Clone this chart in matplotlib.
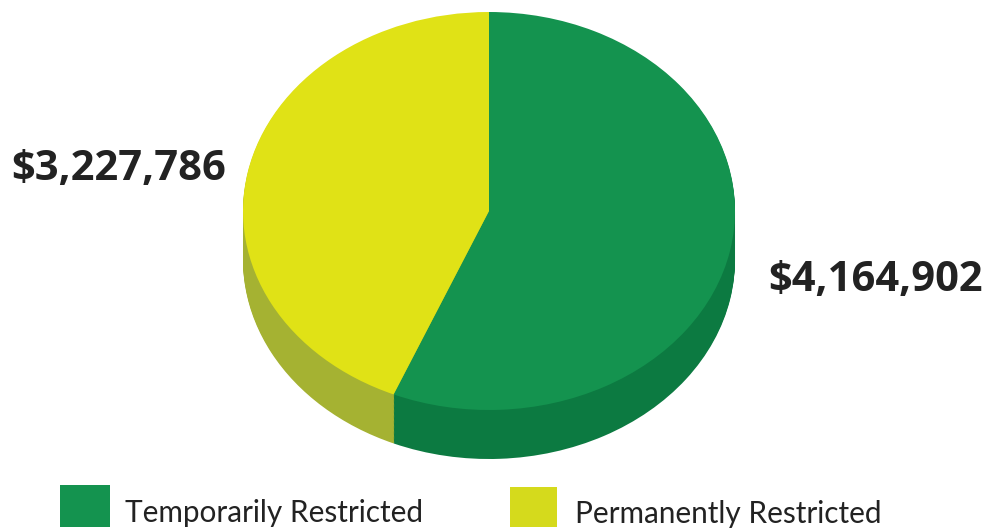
#!/usr/bin/env python3
import numpy as np
import matplotlib
matplotlib.use('Agg')
import matplotlib.pyplot as plt
from matplotlib.patches import Rectangle

categories = ['Temporarily Restricted', 'Permanently Restricted']
values = [4164902, 3227786]
value_labels = ['$4,164,902', '$3,227,786']
top_colors = ['#14934f', '#e0e216']
side_colors = ['#0c7a41', '#a5b232']

W, H = 985, 529
fig = plt.figure(figsize=(W / 100, H / 100), dpi=100, facecolor='white')

# pie axes, stretched so the unit circle becomes the tilted ellipse
depth = 49 / 199.0
ax = fig.add_axes([243 / W, 1 - 459 / H, 492 / W, 447 / H])
for off in np.linspace(-depth, -0.005, 40):
    ax.pie(values, colors=side_colors, startangle=90, counterclock=False,
           center=(0, off), radius=1)
ax.pie(values, colors=top_colors, startangle=90, counterclock=False,
       center=(0, 0), radius=1)
ax.set_aspect('auto')
ax.set_xlim(-1, 1)
ax.set_ylim(-1 - depth, 1)
ax.axis('off')

# overlay in pixel coords for labels and legend
ov = fig.add_axes([0, 0, 1, 1])
ov.set_xlim(0, W)
ov.set_ylim(H, 0)
ov.axis('off')

ov.text(119, 180, value_labels[1], family='Open Sans', weight='bold', size=30,
        color='#222222', ha='center', va='baseline')
ov.text(876, 291, value_labels[0], family='Open Sans', weight='bold', size=30,
        color='#222222', ha='center', va='baseline')

ov.add_patch(Rectangle((60, 485), 50, 42, color=top_colors[0], lw=0))
ov.add_patch(Rectangle((510, 487), 47, 40, color='#d5da1c', lw=0))
ov.text(125, 522, categories[0], family='Lato', size=21.4, color='#222222', va='baseline')
ov.text(575, 523, categories[1], family='Lato', size=21.4, color='#222222', va='baseline')

fig.savefig('out.png', dpi=100)
